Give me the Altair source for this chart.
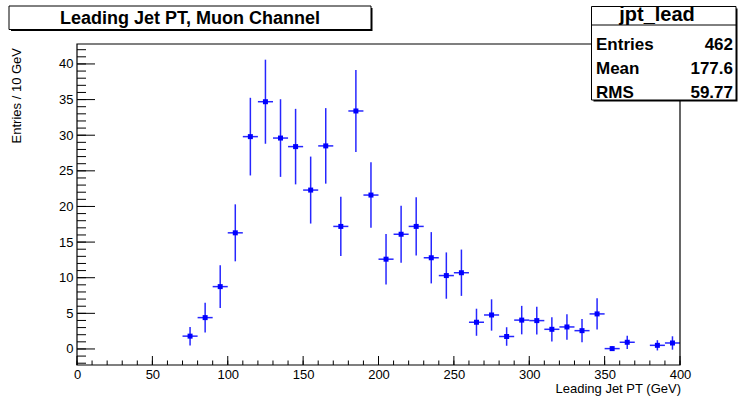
import altair as alt
import pandas as pd

# ---- data ----
bin_centers = [75, 85, 95, 105, 115, 125, 135, 145, 155, 165, 175, 185, 195, 205, 215,
               225, 235, 245, 255, 265, 275, 285, 295, 305, 315, 325, 335, 345, 355,
               365, 385, 395]
entries = [1.8, 4.4, 8.75, 16.3, 29.8, 34.7, 29.6, 28.4, 22.3, 28.5, 17.2, 33.4, 21.6,
           12.6, 16.1, 17.2, 12.8, 10.3, 10.7, 3.75, 4.77, 1.75, 4.05, 3.98, 2.76, 3.09,
           2.57, 4.92, 0.05, 0.94, 0.51, 0.84]
errors = [1.3, 2.1, 3.0, 4.0, 5.45, 5.9, 5.45, 5.3, 4.7, 5.3, 4.15, 5.75, 4.6,
          3.55, 4.0, 4.1, 3.6, 3.25, 3.25, 1.9, 2.2, 1.3, 2.0, 1.95, 1.7, 1.78,
          1.63, 2.2, 0.33, 0.93, 0.72, 0.94]
bin_width = 10

x_major = [0, 50, 100, 150, 200, 250, 300, 350, 400]
x_minor = list(range(0, 401, 10))
y_major = [0, 5, 10, 15, 20, 25, 30, 35, 40]
y_minor = list(range(-2, 43, 1))

title_text = "Leading Jet PT, Muon Channel"
stat_name = "jpt_lead"
stat_labels = ["Entries", "Mean", "RMS"]
stat_values = ["462", "177.6", "59.77"]
x_title = "Leading Jet PT (GeV)"
y_title = "Entries / 10 GeV"

W, H = 603, 321
OX, OY = 77, 44
FONT = "Liberation Sans"
BLUE = "#0000ff"

df = pd.DataFrame({
    "x": bin_centers,
    "y": entries,
    "lo": [c - bin_width / 2 for c in bin_centers],
    "hi": [c + bin_width / 2 for c in bin_centers],
    "ylo": [v - e for v, e in zip(entries, errors)],
    "yhi": [v + e for v, e in zip(entries, errors)],
})

xs = alt.Scale(domain=[0, 400], nice=False, zero=False)
ys = alt.Scale(domain=[-2.25, 42.8], nice=False, zero=False)
xax = alt.Axis(values=x_major, ticks=False, domain=False, grid=False,
               labelFont=FONT, labelFontSize=13, labelColor="black",
               labelPadding=3, title=None, labelFlush=False)
yax = alt.Axis(values=y_major, ticks=False, domain=False, grid=False,
               labelFont=FONT, labelFontSize=13, labelColor="black",
               labelPadding=4, title=None, labelFlush=False)


def X(f):
    return alt.X(f, scale=xs, axis=xax)


def Y(f):
    return alt.Y(f, scale=ys, axis=yax)


base = alt.Chart(df)

hbar = base.mark_rule(color=BLUE, strokeWidth=1.5, opacity=0.85).encode(
    x=X("lo:Q"), x2="hi:Q", y=Y("y:Q"))
vbar = base.mark_rule(color=BLUE, strokeWidth=1.5, opacity=0.85).encode(
    x=X("x:Q"), y=Y("ylo:Q"), y2="yhi:Q")
pts = base.mark_square(color=BLUE, size=25, opacity=1, filled=True).encode(
    x=X("x:Q"), y=Y("y:Q"))

one = pd.DataFrame({"a": [0]})

# frame
frame = alt.Chart(one).mark_rect(
    fill=None, stroke="black", strokeWidth=1.2, clip=False).encode(
    x=alt.value(0), x2=alt.value(W), y=alt.value(0), y2=alt.value(H))

# ticks (inside)
xmaj = alt.Chart(pd.DataFrame({"t": x_major})).mark_rule(color="black", strokeWidth=1).encode(
    x=X("t:Q"), y=alt.value(H), y2=alt.value(H - 9))
xmin = alt.Chart(pd.DataFrame({"t": x_minor})).mark_rule(color="black", strokeWidth=1).encode(
    x=X("t:Q"), y=alt.value(H), y2=alt.value(H - 4.5))
ymaj = alt.Chart(pd.DataFrame({"t": y_major})).mark_rule(color="black", strokeWidth=1).encode(
    y=Y("t:Q"), x=alt.value(0), x2=alt.value(18))
ymin = alt.Chart(pd.DataFrame({"t": y_minor})).mark_rule(color="black", strokeWidth=1).encode(
    y=Y("t:Q"), x=alt.value(0), x2=alt.value(9))

# axis titles
xt = alt.Chart(one).mark_text(text=x_title, font=FONT, fontSize=13, align="right",
                              baseline="alphabetic", color="black").encode(
    x=alt.value(W + 1), y=alt.value(392.5 - OY))
yt = alt.Chart(one).mark_text(text=y_title, font=FONT, fontSize=13, align="right",
                              baseline="middle", angle=270, color="black").encode(
    x=alt.value(17 - OX), y=alt.value(48 - OY))

# title box (with ROOT-like shadow)
tshadow = alt.Chart(one).mark_rect(fill="black", clip=False).encode(
    x=alt.value(9 - OX + 2), x2=alt.value(371 - OX + 1.5),
    y=alt.value(6 - OY + 2), y2=alt.value(29.5 - OY + 1.5))
tbox = alt.Chart(one).mark_rect(fill="white", stroke="black", strokeWidth=1, clip=False).encode(
    x=alt.value(9 - OX), x2=alt.value(371 - OX), y=alt.value(6 - OY), y2=alt.value(29.5 - OY))
ttext = alt.Chart(one).mark_text(text=title_text, font=FONT, fontSize=18, fontWeight="bold",
                                 align="center", baseline="alphabetic", color="black").encode(
    x=alt.value(190 - OX), y=alt.value(24 - OY))

# stats box
sx0, sx1, sy0, sy1 = 591.5 - OX, 736 - OX, 6.5 - OY, 100 - OY
sshadow = alt.Chart(one).mark_rect(fill="black", clip=False).encode(
    x=alt.value(sx0 + 2), x2=alt.value(sx1 + 1.5), y=alt.value(sy0 + 2), y2=alt.value(sy1 + 1.5))
sbox = alt.Chart(one).mark_rect(fill="white", stroke="black", strokeWidth=1, clip=False).encode(
    x=alt.value(sx0), x2=alt.value(sx1), y=alt.value(sy0), y2=alt.value(sy1))
sline = alt.Chart(one).mark_rule(color="black", strokeWidth=1).encode(
    x=alt.value(sx0), x2=alt.value(sx1), y=alt.value(25 - OY))
sname = alt.Chart(one).mark_text(text=stat_name, font=FONT, fontSize=20, fontWeight="bold",
                                 align="center", baseline="alphabetic", color="black").encode(
    x=alt.value(657 - OX), y=alt.value(21 - OY))

row_y = [49.5, 73.5, 97.5]
stat_layers = []
for lab, val, ry in zip(stat_labels, stat_values, row_y):
    stat_layers.append(alt.Chart(one).mark_text(
        text=lab, font=FONT, fontSize=17, fontWeight="bold", align="left",
        baseline="alphabetic", color="black").encode(
        x=alt.value(596 - OX), y=alt.value(ry - OY)))
    stat_layers.append(alt.Chart(one).mark_text(
        text=val, font=FONT, fontSize=17, fontWeight="bold", align="right",
        baseline="alphabetic", color="black").encode(
        x=alt.value(733 - OX), y=alt.value(ry - OY)))

chart = alt.layer(
    hbar, vbar, pts, xmin, xmaj, ymin, ymaj, frame, xt, yt,
    tshadow, tbox, ttext, sshadow, sbox, sline, sname, *stat_layers
).properties(
    width=W, height=H,
    padding={"left": OX, "top": OY, "right": 739 - OX - W, "bottom": 398 - OY - H},
    autosize=alt.AutoSizeParams(type="none"),
    background="white",
).configure_view(stroke=None)

chart.save("out.html", embed_options={"renderer": "svg", "actions": False})
